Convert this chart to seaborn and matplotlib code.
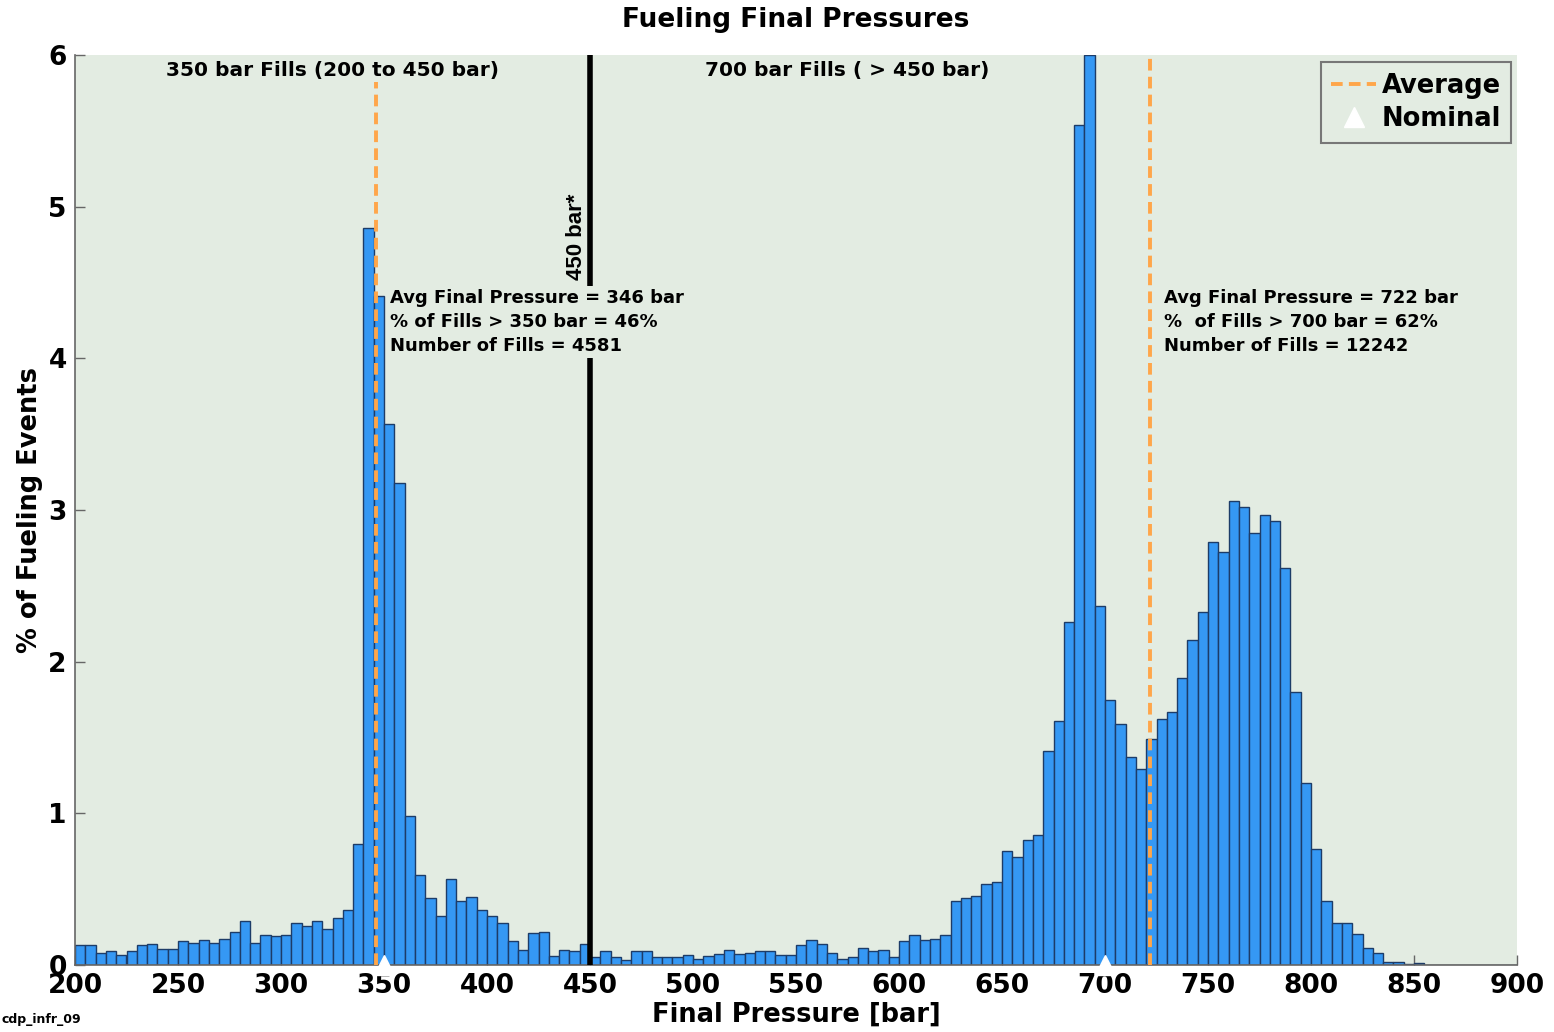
import numpy as np
import pandas as pd
import matplotlib
matplotlib.use("Agg")
import matplotlib.pyplot as plt
from matplotlib.lines import Line2D
import seaborn as sns

# Histogram: 5 bar bins starting at 200 bar, % of fueling events per bin
bin_start = 200
bin_width = 5
pct_events = [
    # 200 - 295
    0.13, 0.13, 0.08, 0.095, 0.065, 0.09, 0.135, 0.14, 0.105, 0.105,
    0.155, 0.145, 0.165, 0.145, 0.17, 0.22, 0.29, 0.145, 0.20, 0.19,
    # 300 - 395
    0.20, 0.275, 0.255, 0.29, 0.24, 0.31, 0.36, 0.80, 4.86, 4.41,
    3.57, 3.18, 0.98, 0.595, 0.445, 0.32, 0.57, 0.42, 0.45, 0.365,
    # 400 - 495
    0.32, 0.275, 0.16, 0.10, 0.21, 0.215, 0.06, 0.10, 0.09, 0.14,
    0.05, 0.09, 0.05, 0.03, 0.09, 0.095, 0.055, 0.055, 0.055, 0.065,
    # 500 - 595
    0.04, 0.06, 0.075, 0.10, 0.07, 0.08, 0.09, 0.09, 0.065, 0.065,
    0.13, 0.165, 0.14, 0.08, 0.04, 0.055, 0.11, 0.095, 0.10, 0.055,
    # 600 - 695
    0.16, 0.195, 0.165, 0.17, 0.196, 0.42, 0.445, 0.455, 0.535, 0.55,
    0.75, 0.71, 0.825, 0.855, 1.41, 1.61, 2.26, 5.54, 6.0, 2.37,
    # 700 - 795
    1.75, 1.59, 1.37, 1.29, 1.49, 1.62, 1.67, 1.89, 2.14, 2.33,
    2.79, 2.72, 3.06, 3.02, 2.85, 2.97, 2.93, 2.62, 1.80, 1.20,
    # 800 - 850
    0.765, 0.425, 0.275, 0.275, 0.205, 0.11, 0.08, 0.022, 0.018, 0.005,
    0.013,
]

avg_pressures = [346, 722]
nominal_pressures = [350, 700]
split_pressure = 450
stats_350 = ["Avg Final Pressure = 346 bar", "% of Fills > 350 bar = 46%", "Number of Fills = 4581"]
stats_700 = ["Avg Final Pressure = 722 bar", "%  of Fills > 700 bar = 62%", "Number of Fills = 12242"]

bg = "#e3ece2"
bar_color = "#3598f4"
edge_color = "#1d3c68"
orange = "#ffa64a"

sns.set_style("ticks")
plt.rcParams["font.family"] = ["DejaVu Sans"]
plt.rcParams["font.weight"] = "bold"
plt.rcParams["text.color"] = "black"
plt.rcParams["axes.labelcolor"] = "black"
plt.rcParams["xtick.labelcolor"] = "black"
plt.rcParams["ytick.labelcolor"] = "black"

fig = plt.figure(figsize=(15.54, 10.32), dpi=100)
ax = fig.add_axes([75 / 1554, 1 - 965 / 1032, (1517 - 75) / 1554, (965 - 55) / 1032])
ax.set_facecolor(bg)

df = pd.DataFrame({
    "pressure": bin_start + bin_width * (np.arange(len(pct_events)) + 0.5),
    "pct": pct_events,
})
sns.histplot(data=df, x="pressure", weights="pct", binwidth=bin_width, binrange=(200, 900),
             ax=ax, color=bar_color, edgecolor=edge_color, linewidth=1.0, alpha=1.0, zorder=2)

# split line and averages
ax.axvline(split_pressure, color="black", lw=4, zorder=4)
for p in avg_pressures:
    ax.axvline(p, color=orange, lw=2.8, ls=(0, (3, 1.6)), zorder=3)
ax.plot(nominal_pressures, [0, 0], ls="none", marker="^", markersize=15, color="white",
        zorder=6, clip_on=False)

ax.set_xlim(200, 900)
ax.set_ylim(0, 6)
ax.set_xticks(range(200, 901, 50))
ax.set_yticks(range(0, 7))
ax.tick_params(direction="in", length=7, width=1, color="#666666", labelsize=19, pad=6)
for lbl in ax.get_xticklabels() + ax.get_yticklabels():
    lbl.set_fontweight("bold")
sns.despine(ax=ax)
for s in ("left", "bottom"):
    ax.spines[s].set_color("#666666")
    ax.spines[s].set_linewidth(1.2)

ax.set_title("Fueling Final Pressures", fontsize=19, fontweight="bold", pad=20)
ax.set_xlabel("Final Pressure [bar]", fontsize=18.5, fontweight="bold", labelpad=2)
ax.set_ylabel("% of Fueling Events", fontsize=18.5, fontweight="bold", labelpad=4)

box = dict(facecolor=bg, edgecolor="none", pad=2)
ax.text(325, 5.9, "350 bar Fills (200 to 450 bar)", ha="center", va="center",
        fontsize=14.5, fontweight="bold", bbox=box, zorder=5)
ax.text(575, 5.9, "700 bar Fills ( > 450 bar)", ha="center", va="center",
        fontsize=14.5, fontweight="bold", zorder=5)
ax.text(443.5, 4.8, "450 bar*", rotation=90, ha="center", va="center",
        fontsize=16, fontweight="bold", family=["Liberation Sans", "DejaVu Sans"], zorder=5)
ax.text(353, 4.46, "\n".join(stats_350), ha="left", va="top", fontsize=13,
        fontweight="bold", linespacing=1.45, bbox=box, zorder=5)
ax.text(728.5, 4.46, "\n".join(stats_700), ha="left", va="top", fontsize=13,
        fontweight="bold", linespacing=1.45, zorder=5)

handles = [
    Line2D([], [], color=orange, lw=2.8, ls=(0, (3, 1.6))),
    Line2D([], [], color="white", marker="^", ls="none", markersize=15),
]
leg = ax.legend(handles, ["Average", "Nominal"], loc="upper right",
                bbox_to_anchor=(0.996, 0.992), prop={"size": 18.5, "weight": "bold"},
                frameon=True, fancybox=False, handlelength=1.75, handletextpad=0.2,
                borderpad=0.4, labelspacing=0.3, borderaxespad=0)
leg.get_frame().set_facecolor(bg)
leg.get_frame().set_edgecolor("#777777")
leg.get_frame().set_linewidth(1.5)
leg.get_frame().set_alpha(1)

fig.text(0.001, 0.006, "cdp_infr_09", fontsize=9, fontweight="bold", ha="left", va="bottom")

fig.savefig("out.png", dpi=100)
